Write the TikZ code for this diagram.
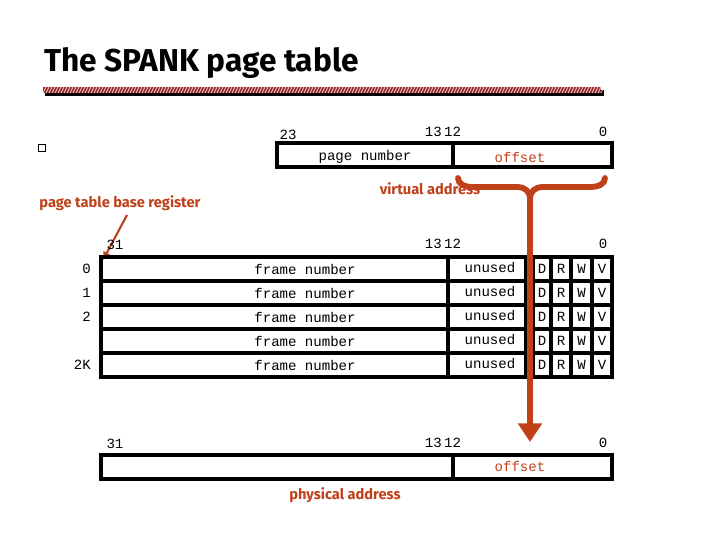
\documentclass[tikz,border=0pt]{standalone}
\usepackage{fontspec}
\setmainfont{Liberation Mono}
\newfontfamily\lab{Fira Sans}
\usetikzlibrary{patterns,arrows.meta}
\definecolor{rust}{HTML}{C0401A}
\definecolor{bar}{HTML}{9A2A2A}
\begin{document}
\begin{tikzpicture}[x=0.03cm,y=-0.03cm,
 cell/.style={draw=black,line width=3.2pt},
 mono/.style={font=\fontsize{12}{13}\selectfont},
 red/.style={text=rust,font=\lab\bfseries\fontsize{12.5}{13}\selectfont},
 num/.style={font=\fontsize{12}{13}\selectfont,anchor=base}]
\useasboundingbox (0,0) rectangle (720,540);
\node[anchor=base west,font=\lab\bfseries\fontsize{27}{30}\selectfont] (title) at (40,72) {The SPANK page table};
\fill[black] (45,90) rectangle (604,96);
\fill[bar] (43,87) rectangle (601,93);
\foreach \k in {0,3,...,558}{\draw[white,line width=0.5pt] (43+\k,93) -- (46+\k,87);}
\node[draw,minimum size=6pt,inner sep=0pt,line width=0.7pt] (bul) at (42,148) {};
% virtual address
\draw[cell] (277,143) rectangle (612,167); \draw[cell] (453,143)--(453,167);
\node[mono] (pn) at (365,157) {page number};
\node[mono,text=rust] (off1) at (520,157) {offset};
\node[num] (v23) at (288,140) {23};
\node[num] (v1312) at (443,137) {13\,12};
\node[num] (v0) at (603,137) {0};
\node[red] (va) at (430,189) {virtual address};
\draw[rust,line width=5pt,line cap=round] (458,178) to[out=-90,in=180] (472,187) -- (518,187) to[out=0,in=90] (530,198);
\draw[rust,line width=5pt,line cap=round] (605,178) to[out=-90,in=0] (591,187) -- (542,187) to[out=180,in=90] (530,198);
\coordinate (bt) at (530,196);
\coordinate (bb) at (530,442);
\draw[rust,line width=5pt,-{Triangle[width=20pt,length=16pt]}] (bt) -- (bb);
% ptbr
\node[red] (ptbr) at (120,203) {page table base register};
\coordinate (ptbrA) at (103,260);
\draw[rust,line width=1.8pt,-{Triangle[width=6pt,length=7pt]}] (127,215) -- (ptbrA);
% table
\node[num] at (115,250) {31};
\node[num] at (443,249) {13\,12};
\node[num] at (603,249) {0};
\foreach \i/\lbl in {0/0,1/1,2/2,3/,4/2K}{
 \pgfmathsetmacro\ya{257+24*\i}\pgfmathsetmacro\yb{\ya+24}\pgfmathsetmacro\ym{\ya+12}
 \draw[cell] (101,\ya) rectangle (448,\yb);
 \draw[cell] (448,\ya) rectangle (526,\yb);
 \draw[cell] (533,\ya) rectangle (551,\yb);
 \draw[cell] (551,\ya) rectangle (571,\yb);
 \draw[cell] (571,\ya) rectangle (592,\yb);
 \draw[cell] (592,\ya) rectangle (612,\yb);
 \node[mono] at (305,\ym) {frame number};
 \node[mono] at (490,\ym-2) {unused};
 \node[mono] at (542,\ym) {D}; \node[mono] at (561,\ym) {R};
 \node[mono] at (581.5,\ym) {W}; \node[mono] at (602,\ym) {V};
 \node[mono,anchor=east] at (95,\ym) {\lbl};
}
\draw[rust,line width=5pt] (530,250) -- (530,400);
% physical
\draw[cell] (101,455) rectangle (612,479); \draw[cell] (453,455)--(453,479);
\node[mono,text=rust] (off2) at (520,466) {offset};
\node[num] at (115,449) {31};
\node[num] at (443,447) {13\,12};
\node[num] at (603,447) {0};
\node[red] (pa) at (345,495) {physical address};
\end{tikzpicture}
\end{document}
